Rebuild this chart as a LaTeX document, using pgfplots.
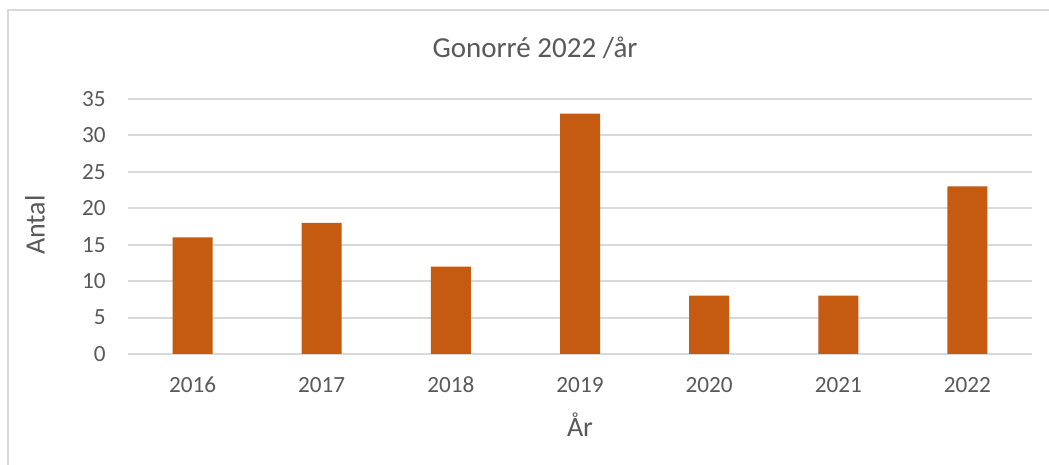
\documentclass[border=0pt]{standalone}
\usepackage{pgfplots}
\pgfplotsset{compat=1.18}
\usepackage{fontspec}
\setmainfont{Carlito}
\definecolor{barc}{HTML}{C55A11}
\definecolor{gridc}{HTML}{D9D9D9}
\definecolor{txt}{HTML}{595959}
\begin{document}
\begin{tikzpicture}
\useasboundingbox (0,0) rectangle (524.5pt,232.5pt);
\fill[white] (0,0) rectangle (524.5pt,232.5pt);
\draw[gridc, line width=0.8pt] (4pt,-20pt) -- (4pt,227.5pt) -- (560pt,227.5pt);
\begin{axis}[
  at={(64pt,55.5pt)}, anchor=south west,
  scale only axis, width=452pt, height=127.5pt,
  xmin=-0.5, xmax=6.5, ymin=0, ymax=35,
  ytick={0,5,...,35},
  xtick={0,...,6},
  xticklabels={2016,2017,2018,2019,2020,2021,2022},
  axis line style={draw=none},
  major tick length=0pt,
  ymajorgrids, grid style={gridc, line width=1pt},
  /pgf/number format/assume math mode=true,
  ticklabel style={font=\fontsize{11.6}{13}\selectfont, text=txt},
  yticklabel style={anchor=east, inner sep=0pt, xshift=-11pt},
  xticklabel style={anchor=base, inner sep=0pt, yshift=-19.5pt},
  ybar, bar width=20pt,
  clip=false,
]
\addplot[fill=barc, draw=none, bar shift=0pt] coordinates {(0,16) (1,18) (2,12) (3,33) (4,8) (5,8) (6,23)};
\end{axis}
\node[text=txt, font=\fontsize{14.5}{17}\selectfont] at (267.5pt,208.5pt) {Gonorré 2022 /år};
\node[text=txt, font=\fontsize{14}{17}\selectfont, rotate=90] at (17.5pt,120pt) {Antal};
\node[text=txt, font=\fontsize{14}{17}\selectfont] at (290pt,20pt) {År};
\end{tikzpicture}
\end{document}
